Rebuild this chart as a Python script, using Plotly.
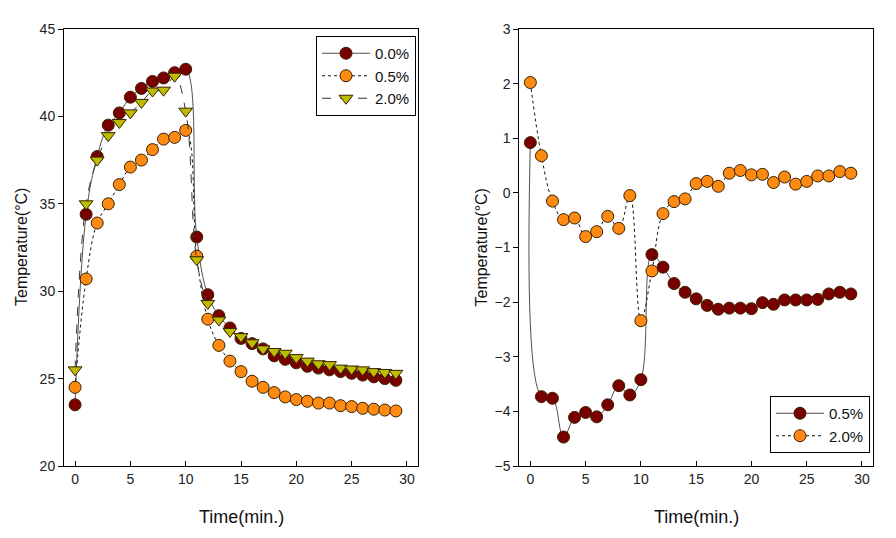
import plotly.graph_objects as go
from plotly.subplots import make_subplots

time = list(range(30))

# Left panel: temperature (°C)
left_names = ["0.0%", "0.5%", "2.0%"]
left_00 = [23.5, 34.4, 37.7, 39.5, 40.2, 41.1, 41.6, 42.0, 42.2, 42.5, 42.7, 33.1, 29.8, 28.6, 27.9,
           27.3, 27.0, 26.7, 26.3, 26.1, 25.9, 25.7, 25.6, 25.5, 25.4, 25.3, 25.2, 25.1, 25.0, 24.9]
left_05 = [24.5, 30.7, 33.9, 35.0, 36.1, 37.1, 37.5, 38.1, 38.7, 38.8, 39.2, 32.0, 28.4, 26.9, 26.0,
           25.4, 24.85, 24.5, 24.2, 23.95, 23.8, 23.7, 23.6, 23.6, 23.45, 23.4, 23.3, 23.25, 23.2, 23.15]
left_20 = [25.5, 35.0, 37.5, 38.9, 39.65, 40.2, 40.8, 41.45, 41.5, 42.3, 40.3, 31.8, 29.3, 28.35, 27.7,
           27.4, 27.05, 26.7, 26.55, 26.45, 26.2, 26.0, 25.85, 25.8, 25.6, 25.55, 25.5, 25.4, 25.35, 25.3]

# Right panel: temperature difference (°C)
right_names = ["0.5%", "2.0%"]
right_05 = [0.92, -3.73, -3.76, -4.47, -4.11, -4.02, -4.10, -3.88, -3.53, -3.70, -3.42, -1.13, -1.36, -1.66, -1.82,
            -1.94, -2.06, -2.13, -2.11, -2.11, -2.12, -2.01, -2.04, -1.96, -1.96, -1.96, -1.95, -1.85, -1.82, -1.85]
right_20 = [2.02, 0.68, -0.15, -0.49, -0.46, -0.80, -0.71, -0.43, -0.65, -0.05, -2.34, -1.43, -0.38, -0.16, -0.11,
            0.17, 0.21, 0.12, 0.36, 0.41, 0.33, 0.34, 0.19, 0.29, 0.16, 0.21, 0.31, 0.31, 0.39, 0.36]

x_ticks = [0, 5, 10, 15, 20, 25, 30]
left_yticks = [20, 25, 30, 35, 40, 45]
right_yticks = [-5, -4, -3, -2, -1, 0, 1, 2, 3]
x_title = "Time(min.)"
y_title = "Temperature(°C)"

MAROON = "#7a0000"
ORANGE = "#ff8a12"
OLIVE = "#bcbc00"
EDGE = "#3a2000"
FONT = "Liberation Sans, Arial, sans-serif"

W, H = 896, 538
ml, mr, mt, mb = 64, 23, 29, 72
pw = W - ml - mr
ph = H - mt - mb

fig = make_subplots(rows=1, cols=2, horizontal_spacing=0.125)

def add(x, y, name, color, dash, symbol, col, legend, size=12, lcolor="#555555"):
    fig.add_trace(go.Scatter(
        x=x, y=y, name=name, mode="lines+markers",
        line=dict(color=lcolor, width=1, dash=dash, shape="spline", smoothing=1.1),
        marker=dict(color=color, size=size, symbol=symbol, line=dict(color=EDGE, width=1)),
        legend=legend,
    ), row=1, col=col)

add(time, left_00, left_names[0], MAROON, "solid", "circle", 1, "legend", lcolor="#505050")
add(time, left_05, left_names[1], ORANGE, "dot", "circle", 1, "legend", lcolor="#111111")
add(time, left_20, left_names[2], OLIVE, "dash", "triangle-down", 1, "legend", size=12, lcolor="#333333")

add(time, right_05, right_names[0], MAROON, "solid", "circle", 2, "legend2", lcolor="#505050")
add(time, right_20, right_names[1], ORANGE, "dot", "circle", 2, "legend2", lcolor="#111111")

axis_common = dict(showline=True, linecolor="black", linewidth=1, mirror=True, showgrid=False,
                   zeroline=False, tickfont=dict(family=FONT, size=14, color="#222"),
                   tickcolor="black", ticklen=5, automargin=False)

for col in (1, 2):
    fig.update_xaxes(range=[-1, 31], tickvals=x_ticks, ticks="inside", row=1, col=col, **axis_common)

fig.update_yaxes(range=[20, 45], tickvals=left_yticks, ticks="outside", row=1, col=1, **axis_common)
fig.update_yaxes(range=[-5, 3], tickvals=right_yticks, ticks="outside", row=1, col=2, **axis_common)

def px_x(p):
    return (p - ml) / pw

def px_y(p):
    return 1 - (p - mt) / ph

annos = []
for cx in (241, 696):
    annos.append(dict(text=x_title, x=px_x(cx), y=px_y(517), xref="paper", yref="paper",
                      showarrow=False, xanchor="center", yanchor="middle",
                      font=dict(family=FONT, size=18, color="#111")))
for cx in (22, 481.5):
    annos.append(dict(text=y_title, x=px_x(cx), y=px_y(247), xref="paper", yref="paper",
                      showarrow=False, xanchor="center", yanchor="middle", textangle=-90,
                      font=dict(family=FONT, size=16, color="#111")))

fig.update_layout(
    xaxis=dict(domain=[0, px_x(418)]),
    xaxis2=dict(domain=[px_x(519.3), 1]),
    width=W, height=H,
    margin=dict(l=ml, r=mr, t=mt, b=mb, autoexpand=False),
    plot_bgcolor="white", paper_bgcolor="white",
    font=dict(family=FONT, size=14, color="#111"),
    annotations=annos,
    legend=dict(x=px_x(416), y=px_y(36), xanchor="right", yanchor="top",
                bgcolor="white", bordercolor="black", borderwidth=1,
                font=dict(family=FONT, size=15), tracegroupgap=0, itemwidth=48),
    legend2=dict(x=px_x(870), y=px_y(453), xanchor="right", yanchor="bottom",
                 bgcolor="white", bordercolor="black", borderwidth=1,
                 font=dict(family=FONT, size=15), tracegroupgap=0, itemwidth=48),
    showlegend=True,
)

fig.write_html("out.html", config={"displayModeBar": False},
               post_script="document.body.style.margin='0';")
